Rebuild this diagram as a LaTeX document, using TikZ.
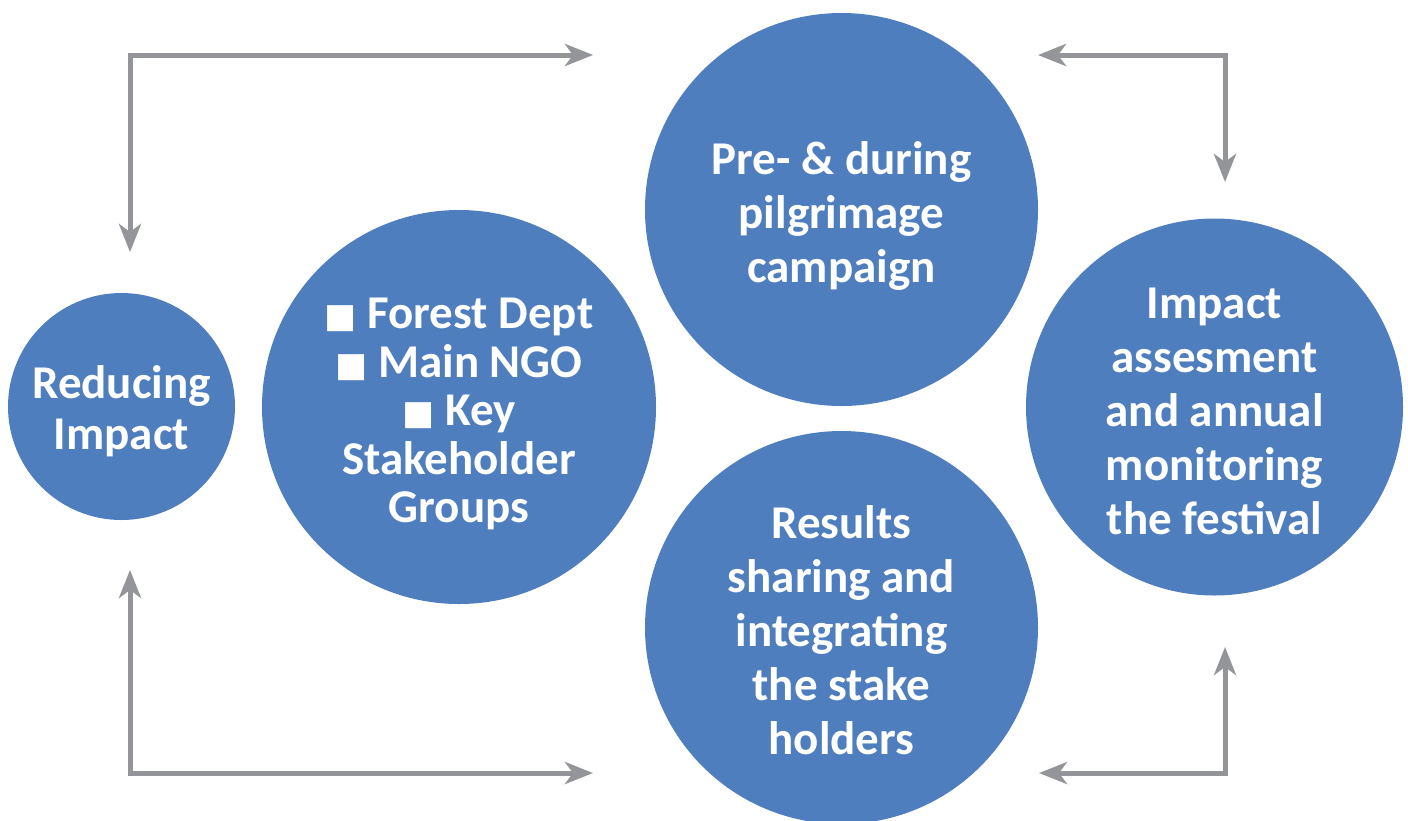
\documentclass[tikz,border=0pt]{standalone}
\usepackage{fontspec}
\setmainfont{Carlito}
\newfontfamily\dejavu{DejaVu Sans}
\usetikzlibrary{arrows.meta}
\definecolor{cblue}{RGB}{79,126,191}
\definecolor{cgray}{RGB}{148,149,153}
\newcommand{\sqb}{\raisebox{1pt}{\dejavu\fontsize{34}{34}\selectfont ■}}
\tikzset{
  bubble/.style={circle, fill=cblue, inner sep=0pt},
  txt/.style={text=white, align=center, inner sep=0pt,
    font=\bfseries\fontsize{47}{54}\selectfont},
  conn/.style={draw=cgray, line width=5pt,
    {Stealth[length=28pt,width=22pt,inset=8pt]}-{Stealth[length=28pt,width=22pt,inset=8pt]}},
}
\begin{document}
\begin{tikzpicture}[x=1pt,y=-1pt]
\useasboundingbox (0,0) rectangle (1408,820);
\clip (0,0) rectangle (1408,820);
% circles
\node[bubble, minimum size=227pt] (red) at (121.5,406.5) {};
\node[bubble, minimum size=394pt] (stk) at (459,407) {};
\node[bubble, minimum size=393pt] (pre) at (841.5,209.5) {};
\node[bubble, minimum size=393pt] (res) at (841.5,627.5) {};
\node[bubble, minimum size=377pt] (imp) at (1214.5,407) {};
% texts
\node[txt, font=\bfseries\fontsize{47}{51}\selectfont] (redt) at ([yshift=-5pt]red.center) {Reducing\\Impact};
\node[txt, font=\bfseries\fontsize{47}{48.5}\selectfont] (stkt) at ([yshift=-7pt]stk.center) {\sqb\ Forest Dept\\\sqb\ Main NGO\\\sqb\ Key\\Stakeholder\\Groups};
\node[txt] (pret) at ([yshift=-6pt]pre.center) {Pre- \& during\\pilgrimage\\campaign};
\node[txt] (rest) at ([yshift=-3pt]res.center) {Results\\sharing and\\integrating\\the stake\\holders};
\node[txt] (impt) at ([yshift=-4pt]imp.center) {Impact\\assesment\\and annual\\monitoring\\the festival};
% connector ends
\coordinate (tl1) at (130,252);
\coordinate (tl2) at (593,55);
\coordinate (tr1) at (1038,55);
\coordinate (tr2) at (1225,182);
\coordinate (bl1) at (130,570);
\coordinate (bl2) at (593,773);
\coordinate (br1) at (1039,773);
\coordinate (br2) at (1225,647);
\draw[conn] (tl1) |- (tl2);
\draw[conn] (tr1) -| (tr2);
\draw[conn] (bl1) |- (bl2);
\draw[conn] (br1) -| (br2);
\end{tikzpicture}
\end{document}
